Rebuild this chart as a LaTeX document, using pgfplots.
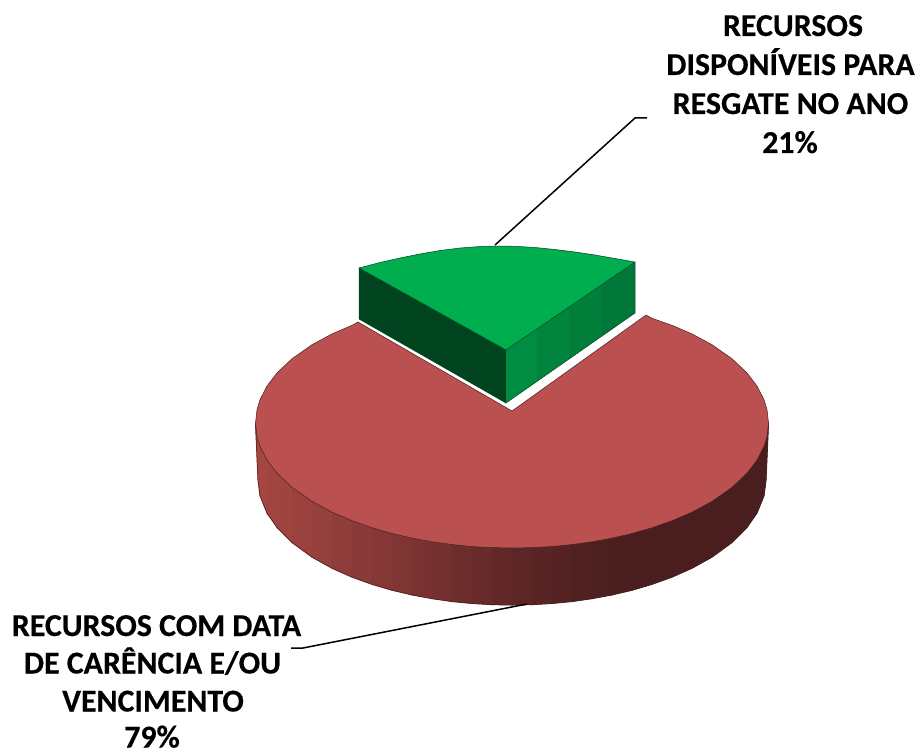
\documentclass[border=0pt]{standalone}
\usepackage{fontspec}
\setmainfont{Carlito}[BoldFeatures={FakeBold=0.4}]
\usepackage{pgfplots}
\pgfplotsset{compat=1.18}
\definecolor{redtop}{HTML}{BB5050}
\definecolor{redline}{HTML}{4A2020}
\definecolor{greentop}{HTML}{00AD4F}
\definecolor{greenline}{HTML}{00461F}
\definecolor{greenleft}{HTML}{00431F}
\tikzset{
  wall/.style={fill={#1},draw={#1},line width=1bp,mark=none},
  lbl/.style={anchor=base,inner sep=0pt,font=\fontsize{32}{36}\selectfont\bfseries},
}
\begin{document}
\begin{tikzpicture}
\begin{axis}[
    width=917bp, height=753bp, scale only axis,
    xmin=0, xmax=917, ymin=0, ymax=753,
    y dir=reverse, hide axis, clip=false,
]
\addplot[fill=white,draw=none] coordinates {(0,0)(917,0)(917,753)(0,753)} -- cycle;

% red wall, banded left to right
\addplot[wall={rgb,255:red,165;green,70;blue,65}] coordinates {(255.5,423)(258,480)(260,495.7)(260,446.3)(257,436.5)} -- cycle;
\addplot[wall={rgb,255:red,165;green,70;blue,65}] coordinates {(260,446.3)(260,495.7)(267,513)(267,460)} -- cycle;
\addplot[wall={rgb,255:red,162;green,69;blue,64}] coordinates {(267,460)(267,513)(277,527.4)(277,473.1)} -- cycle;
\addplot[wall={rgb,255:red,160;green,68;blue,64}] coordinates {(277,473.1)(277,527.4)(292,542.5)(292,487.3)} -- cycle;
\addplot[wall={rgb,255:red,155;green,66;blue,63}] coordinates {(292,487.3)(292,542.5)(312,557.1)(312,501.3)} -- cycle;
\addplot[wall={rgb,255:red,149;green,64;blue,61}] coordinates {(312,501.3)(312,557.1)(332,568.2)(332,512.1)} -- cycle;
\addplot[wall={rgb,255:red,143;green,61;blue,59}] coordinates {(332,512.1)(332,568.2)(352,577.1)(352,520.7)} -- cycle;
\addplot[wall={rgb,255:red,138;green,58;blue,56}] coordinates {(352,520.7)(352,577.1)(372,584.3)(372,527.7)} -- cycle;
\addplot[wall={rgb,255:red,133;green,56;blue,54}] coordinates {(372,527.7)(372,584.3)(392,590.2)(392,533.5)} -- cycle;
\addplot[wall={rgb,255:red,127;green,53;blue,52}] coordinates {(392,533.5)(392,590.2)(412,594.9)(412,538.1)} -- cycle;
\addplot[wall={rgb,255:red,122;green,50;blue,49}] coordinates {(412,538.1)(412,594.9)(432,598.6)(432,541.8)} -- cycle;
\addplot[wall={rgb,255:red,116;green,47;blue,47}] coordinates {(432,541.8)(432,598.6)(452,601.5)(452,544.5)} -- cycle;
\addplot[wall={rgb,255:red,110;green,45;blue,45}] coordinates {(452,544.5)(452,601.5)(472,603.4)(472,546.5)} -- cycle;
\addplot[wall={rgb,255:red,104;green,42;blue,42}] coordinates {(472,546.5)(472,603.4)(492,604.6)(492,547.6)} -- cycle;
\addplot[wall={rgb,255:red,98;green,40;blue,40}] coordinates {(492,547.6)(492,604.6)(512,605)(512,548)} -- cycle;
\addplot[wall={rgb,255:red,93;green,38;blue,38}] coordinates {(512,548)(512,605)(532,604.6)(532,547.6)} -- cycle;
\addplot[wall={rgb,255:red,88;green,36;blue,36}] coordinates {(532,547.6)(532,604.6)(552,603.4)(552,546.5)} -- cycle;
\addplot[wall={rgb,255:red,84;green,34;blue,34}] coordinates {(552,546.5)(552,603.4)(572,601.5)(572,544.5)} -- cycle;
\addplot[wall={rgb,255:red,80;green,33;blue,33}] coordinates {(572,544.5)(572,601.5)(592,598.6)(592,541.8)} -- cycle;
\addplot[wall={rgb,255:red,77;green,32;blue,32}] coordinates {(592,541.8)(592,598.6)(612,594.9)(612,538.1)} -- cycle;
\addplot[wall={rgb,255:red,75;green,31;blue,31}] coordinates {(612,538.1)(612,594.9)(632,590.2)(632,533.5)} -- cycle;
\addplot[wall={rgb,255:red,74;green,30;blue,30}] coordinates {
  (632,533.5)(652,527.7)(672,520.7)(692,512.1)(712,501.3)(732,487.3)(747,473.1)(757,460)(764,446.3)(767,436.5)(768.5,423)
  (766,480)(764,495.7)(757,513)(747,527.4)(732,542.5)(712,557.1)(692,568.2)(672,577.1)(652,584.3)(632,590.2)} -- cycle;

% wall outline
\addplot[draw=redline,line width=0.5bp,mark=none] coordinates {
  (255.5,423)(258,480)(260,495.7)(267,513)(277,527.4)(292,542.5)(312,557.1)(332,568.2)(352,577.1)(372,584.3)(392,590.2)
  (412,594.9)(432,598.6)(452,601.5)(472,603.4)(492,604.6)(512,605)(532,604.6)(552,603.4)(572,601.5)(592,598.6)(612,594.9)
  (632,590.2)(652,584.3)(672,577.1)(692,568.2)(712,557.1)(732,542.5)(747,527.4)(757,513)(764,495.7)(766,480)(768.5,423)};

% red top, 79%
\addplot[fill=redtop,draw=redline,line width=0.5bp,mark=none] coordinates {
  (512,411)(358,322)(352,325.3)(332,333.9)(312,344.7)(292,358.7)(277,372.9)(267,386)(260,399.7)(257,409.5)(255.5,423)
  (257,436.5)(260,446.3)(267,460)(277,473.1)(292,487.3)(312,501.3)(332,512.1)(352,520.7)(372,527.7)(392,533.5)(412,538.1)
  (432,541.8)(452,544.5)(472,546.5)(492,547.6)(512,548)(532,547.6)(552,546.5)(572,544.5)(592,541.8)(612,538.1)(632,533.5)
  (652,527.7)(672,520.7)(692,512.1)(712,501.3)(732,487.3)(747,473.1)(757,460)(764,446.3)(767,436.5)(768.5,423)(767,409.5)
  (764,399.7)(757,386)(747,372.9)(732,358.7)(712,344.7)(692,333.9)(672,325.3)(652,318.3)(646,315)} -- cycle;

% green slice, 21%
\addplot[fill=greenleft,draw=greenline,line width=0.5bp,mark=none] coordinates {(359,268)(506,350)(506,403)(359,319)} -- cycle;
\addplot[fill={rgb,255:red,0;green,140;blue,66},draw=none] coordinates {(506,350)(538,328.2)(538,380.7)(506,403)} -- cycle;
\addplot[fill={rgb,255:red,0;green,132;blue,62},draw=none] coordinates {(537,329)(570,306.3)(570,358.3)(537,381.4)} -- cycle;
\addplot[fill={rgb,255:red,0;green,126;blue,58},draw=none] coordinates {(569,307)(603,283.8)(603,335.3)(569,359)} -- cycle;
\addplot[fill={rgb,255:red,0;green,120;blue,55},draw=none] coordinates {(602,284.5)(635,262)(635,313)(602,336)} -- cycle;
\addplot[draw=greenline,line width=0.5bp,mark=none] coordinates {(506,403)(635,313)(635,262)};
\addplot[fill=greentop,draw=greenline,line width=0.5bp,mark=none] coordinates {
  (506,350)(359,268)(380,262.5)(400,258)(420,254)(440,250.5)(460,248)(480,246.5)(497,246)(515,246.3)(535,247.5)(555,249.5)
  (575,252)(595,255)(615,258.5)(635,262)} -- cycle;

% leaders
\addplot[black,line width=1.5bp,mark=none] coordinates {(495,245)(635,118)(647,118)};
\addplot[black,line width=1.5bp,mark=none] coordinates {(527,604)(303,648)(291,648)};

\node[lbl] at (axis cs:793,36) {RECURSOS};
\node[lbl] at (axis cs:790.5,75) {DISPONÍVEIS PARA};
\node[lbl] at (axis cs:790.5,114) {RESGATE NO ANO};
\node[lbl] at (axis cs:790,153) {21\%};
\node[lbl] at (axis cs:156.5,636) {RECURSOS COM DATA};
\node[lbl] at (axis cs:152.5,673.5) {DE CARÊNCIA E/OU};
\node[lbl] at (axis cs:153,711.5) {VENCIMENTO};
\node[lbl] at (axis cs:152,747.5) {79\%};
\end{axis}
\end{tikzpicture}
\end{document}
